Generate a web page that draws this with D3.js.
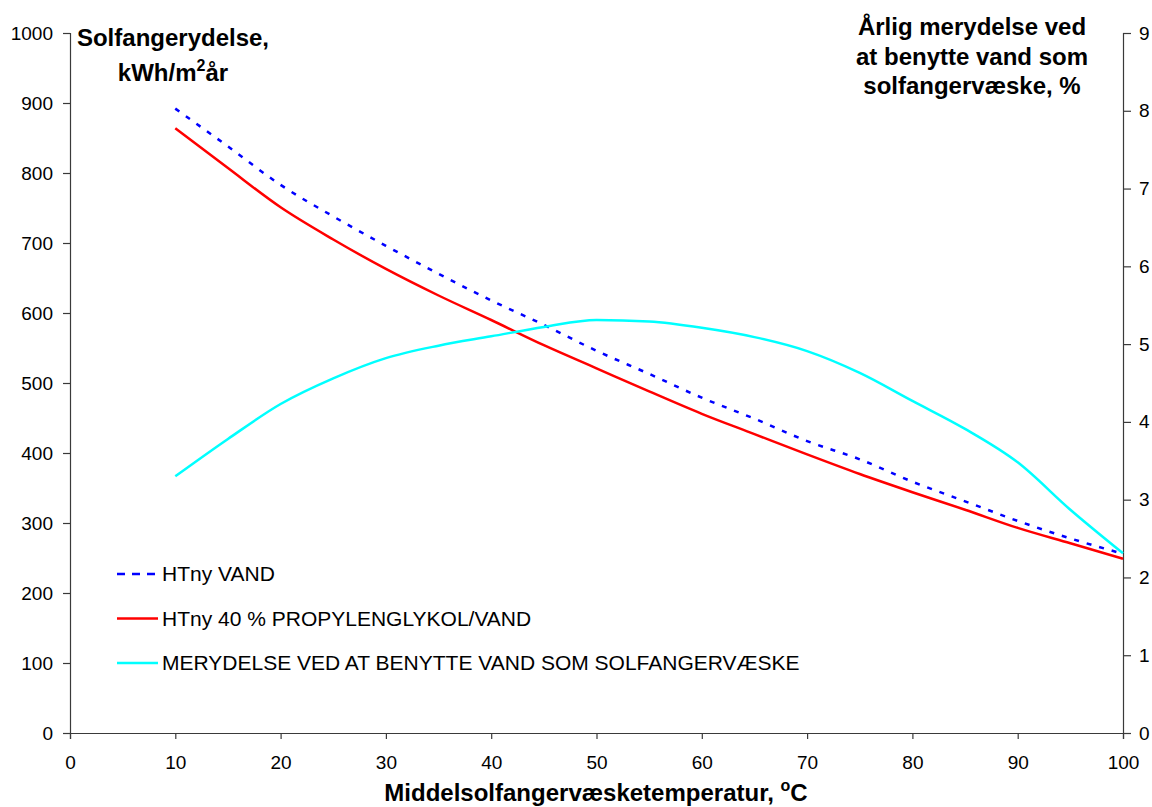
<!DOCTYPE html>
<html>
<head>
<meta charset="utf-8">
<script src="https://cdn.jsdelivr.net/npm/d3@7"></script>
<style>
  html, body { margin: 0; padding: 0; background: #fff; }
  svg { display: block; font-family: "Liberation Sans", Arial, sans-serif; }
</style>
</head>
<body>
<svg id="chart" width="1152" height="807"></svg>
<script>
// Mean collector fluid temperature, °C
const temperatures = [10, 15, 20, 25, 30, 35, 40, 45, 50, 55, 60, 65, 70, 75, 80, 85, 90, 95, 100];
// Annual collector yield, kWh/m²·year – water as collector fluid
const yieldWater = [892, 838, 783, 738, 696, 656, 618, 583, 546, 513, 479, 449, 417, 391, 359, 331, 303, 278, 256];
// Annual collector yield, kWh/m²·year – 40 % propylene glycol / water
const yieldGlycol = [864, 807, 751, 705, 663, 625, 590, 554, 521, 488, 456, 427, 398, 370, 344, 319, 293, 271, 249];
// Annual extra yield when using water as collector fluid, %
const extraYield = [3.30, 3.78, 4.23, 4.56, 4.82, 4.98, 5.10, 5.22, 5.31, 5.29, 5.21, 5.09, 4.91, 4.63, 4.27, 3.91, 3.48, 2.87, 2.31];

const xTicks = [0, 10, 20, 30, 40, 50, 60, 70, 80, 90, 100];
const leftTicks = [0, 100, 200, 300, 400, 500, 600, 700, 800, 900, 1000];
const rightTicks = [0, 1, 2, 3, 4, 5, 6, 7, 8, 9];

const legendLabels = [
  "HTny VAND",
  "HTny 40 % PROPYLENGLYKOL/VAND",
  "MERYDELSE VED AT BENYTTE VAND SOM SOLFANGERVÆSKE"
];

const svg = d3.select("#chart");
const plot = { left: 70, right: 1123, top: 33, bottom: 733 };

const x = d3.scaleLinear().domain([0, 100]).range([plot.left, plot.right]);
const yL = d3.scaleLinear().domain([0, 1000]).range([plot.bottom, plot.top]);
const yR = d3.scaleLinear().domain([0, 9]).range([plot.bottom, plot.top]);

const axisColor = "#3a3a3a";
const tickFont = "19px";

// Bottom axis
const gx = svg.append("g")
  .attr("transform", `translate(0,${plot.bottom})`)
  .call(d3.axisBottom(x).tickValues(xTicks).tickSize(6).tickPadding(17).tickFormat(d3.format("d")));

// Left axis
const gl = svg.append("g")
  .attr("transform", `translate(${plot.left},0)`)
  .call(d3.axisLeft(yL).tickValues(leftTicks).tickSize(7).tickPadding(10).tickFormat(d3.format("d")));

// Right axis
const gr = svg.append("g")
  .attr("transform", `translate(${plot.right},0)`)
  .call(d3.axisRight(yR).tickValues(rightTicks).tickSize(8).tickPadding(8).tickFormat(d3.format("d")));

[gx, gl, gr].forEach(g => {
  g.select(".domain").attr("stroke", axisColor).attr("stroke-width", 1.2);
  g.selectAll(".tick line").attr("stroke", axisColor).attr("stroke-width", 1.2);
  g.selectAll(".tick text")
    .attr("fill", "#000")
    .style("font-family", "'Liberation Sans', Arial, sans-serif")
    .style("font-size", tickFont);
});

// Series lines
const lineL = d3.line().x((d, i) => x(temperatures[i])).y(d => yL(d)).curve(d3.curveMonotoneX);
const lineR = d3.line().x((d, i) => x(temperatures[i])).y(d => yR(d)).curve(d3.curveMonotoneX);

svg.append("path")
  .datum(yieldGlycol)
  .attr("d", lineL)
  .attr("fill", "none")
  .attr("stroke", "#ff0000")
  .attr("stroke-width", 2.5);

svg.append("path")
  .datum(yieldWater)
  .attr("d", lineL)
  .attr("fill", "none")
  .attr("stroke", "#0000ff")
  .attr("stroke-width", 2.5)
  .attr("stroke-dasharray", "5,8");

svg.append("path")
  .datum(extraYield)
  .attr("d", lineR)
  .attr("fill", "none")
  .attr("stroke", "#00ffff")
  .attr("stroke-width", 2.5);

// Legend
const legendStyles = [
  { color: "#0000ff", dash: "8,7" },
  { color: "#ff0000", dash: null },
  { color: "#00ffff", dash: null }
];
const legend = svg.append("g");
legendLabels.forEach((label, i) => {
  const yPos = 574 + i * 44.5;
  legend.append("line")
    .attr("x1", 117).attr("x2", 158)
    .attr("y1", yPos).attr("y2", yPos)
    .attr("stroke", legendStyles[i].color)
    .attr("stroke-width", 2.5)
    .attr("stroke-dasharray", legendStyles[i].dash);
  legend.append("text")
    .attr("x", 162).attr("y", yPos)
    .attr("dy", "0.35em")
    .style("font-size", "21px")
    .text(label);
});

// Left axis title
const leftTitle = svg.append("text")
  .attr("text-anchor", "middle")
  .style("font-size", "24px")
  .style("font-weight", "bold");
leftTitle.append("tspan").attr("x", 173).attr("y", 46).text("Solfangerydelse,");
const lt2 = leftTitle.append("tspan").attr("x", 173).attr("y", 81);
lt2.append("tspan").text("kWh/m");
lt2.append("tspan").attr("dy", -10).style("font-size", "16px").text("2");
lt2.append("tspan").attr("dy", 10).text("år");

// Right axis title
const rightTitle = svg.append("text")
  .attr("text-anchor", "middle")
  .style("font-size", "24px")
  .style("font-weight", "bold");
["Årlig merydelse ved", "at benytte vand som", "solfangervæske, %"].forEach((t, i) => {
  rightTitle.append("tspan").attr("x", 972).attr("y", 35 + i * 29.5).text(t);
});

// Bottom axis title
const xTitle = svg.append("text")
  .attr("x", 596).attr("y", 801)
  .attr("text-anchor", "middle")
  .style("font-size", "24px")
  .style("font-weight", "bold");
xTitle.append("tspan").text("Middelsolfangervæsketemperatur, ");
xTitle.append("tspan").attr("dy", -10).style("font-size", "16px").text("o");
xTitle.append("tspan").attr("dy", 10).text("C");
</script>
</body>
</html>
